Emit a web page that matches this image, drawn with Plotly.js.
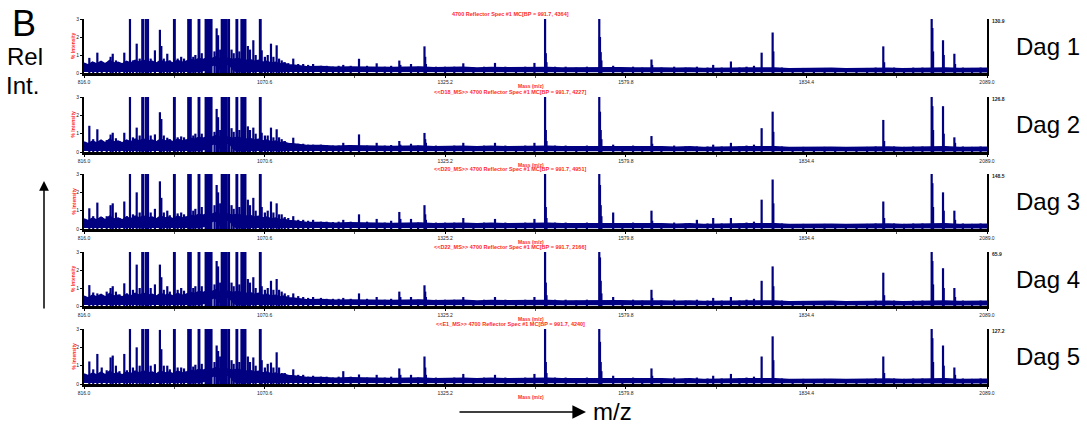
<!DOCTYPE html>
<html>
<head>
<meta charset="utf-8">
<script src="https://cdn.plot.ly/plotly-3.0.1.min.js"></script>
<style>html,body{margin:0;padding:0;background:#fff;}#chart{width:1087px;height:426px;}</style>
</head>
<body>
<div id="chart"></div>
<script>
// ---------------- DATA ----------------
const panelNames = ["Dag 1", "Dag 2", "Dag 3", "Dag 4", "Dag 5"];
const panelTitles = [
  "4700 Reflector Spec #1 MC[BP = 991.7, 4364]",
  "<<D18_MS>> 4700 Reflector Spec #1 MC[BP = 991.7, 4227]",
  "<<D20_MS>> 4700 Reflector Spec #1 MC[BP = 991.7, 4951]",
  "<<D22_MS>> 4700 Reflector Spec #1 MC[BP = 991.7, 2166]",
  "<<E1_MS>> 4700 Reflector Spec #1 MC[BP = 991.7, 4240]"
];
const rightMax = ["130.9", "126.8", "148.5", "65.9", "127.2"];
const xTickVals = [816.0, 1070.6, 1325.2, 1579.8, 1834.4, 2089.0];
const xTickText = ["816.0", "1070.6", "1325.2", "1579.8", "1834.4", "2089.0"];
const xMinorVals = [943.3, 1197.9, 1452.5, 1707.1, 1961.7];
const yTickVals = [0, 1, 2, 3];

// peak positions (m/z)
const peakMz = [
  823.5, 829, 834.8, 841, 848, 853.5, 856.5, 861, 866, 872.8,
  876.5, 880.8, 885, 890.3, 894.5, 898.2, 899.2, 903, 905.2, 906.2,
  910, 916, 923, 925, 928.5, 933.4, 937, 942.9, 943.9, 948,
  953, 957, 963, 965.4, 966.4, 970, 973, 977.6, 978.6, 982,
  987.5, 988.5, 989.7, 990.7, 991.7, 992.7, 993.7, 994.7, 995.7, 1000,
  1003, 1005, 1008, 1010.2, 1011.2, 1012.2, 1013.2, 1014.2, 1015.2, 1016.5,
  1019.4, 1020.4, 1024, 1027, 1031, 1032, 1035, 1038, 1039, 1040,
  1041, 1042.5, 1043.5, 1047, 1050, 1054.7, 1058, 1064, 1065, 1066.5,
  1071, 1075, 1079.6, 1083, 1087.6, 1091, 1094.7, 1099, 1104, 1111,
  1118, 1125, 1132, 1139, 1150, 1158, 1167, 1175, 1181.5, 1192,
  1203.7, 1215, 1228.6, 1240, 1249, 1260.5, 1262, 1277, 1287, 1296,
  1297, 1298, 1312, 1325, 1338, 1350.7, 1365, 1380, 1395.4, 1410,
  1425, 1438, 1451, 1466, 1467, 1468, 1480, 1495, 1510, 1525,
  1542.4, 1543.4, 1544.4, 1545.4, 1562, 1575, 1590, 1603, 1616, 1617,
  1630, 1648, 1664, 1680, 1695, 1703, 1715, 1728, 1740, 1750,
  1760.5, 1771.3, 1786.8, 1787.8, 1800, 1815, 1830, 1845, 1860, 1875,
  1890, 1905, 1920, 1932, 1942.8, 1944, 1958, 1972, 1985, 1998,
  2011, 2012, 2013, 2027, 2028, 2043, 2044, 2055, 2068, 2080
];

// % intensity of each peak, per spectrum (values above 3 are off-scale)
const int1 = [
  0.84, 0.6, 1.13, 0.55, 0.6, 0.9, 1.07, 0.7, 0.55, 1.13,
  0.6, 8, 0.7, 1.63, 0.8, 8, 5, 8, 8, 4,
  0.8, 1.26, 2.4, 1.5, 0.8, 1.07, 0.7, 8, 4, 0.8,
  0.9, 0.8, 8, 8, 4, 0.9, 1.0, 8, 4, 1.1,
  8, 8, 8, 8, 100, 60, 30, 10, 5, 1.2,
  2.48, 2.1, 1.3, 8, 8, 8, 8, 8, 8, 8,
  8, 4, 1.3, 1.1, 8, 4, 1.2, 8, 8, 8,
  8, 8, 5, 1.5, 1.3, 1.82, 1.0, 8, 4, 1.26,
  0.9, 1.0, 1.63, 0.9, 1.54, 0.8, 0.7, 0.6, 0.55, 0.8,
  0.5, 0.5, 0.45, 0.5, 0.4, 0.4, 0.35, 0.4, 0.45, 0.4,
  0.79, 0.4, 0.54, 0.35, 0.4, 0.69, 0.45, 0.5, 0.35, 1.48,
  0.9, 0.5, 0.35, 0.35, 0.35, 0.54, 0.3, 0.35, 0.56, 0.35,
  0.3, 0.35, 0.56, 60, 1.1, 0.6, 0.35, 0.35, 0.3, 0.35,
  50, 2.0, 1.16, 0.7, 0.4, 0.3, 0.35, 0.3, 0.75, 0.45,
  0.3, 0.35, 0.3, 0.35, 0.3, 0.45, 0.3, 0.64, 0.3, 0.35,
  0.4, 1.13, 2.25, 1.2, 0.3, 0.25, 0.28, 0.25, 0.28, 0.25,
  0.27, 0.25, 0.28, 0.3, 1.48, 0.6, 0.3, 0.28, 0.3, 0.3,
  50, 2.5, 1.2, 1.82, 1.0, 1.07, 0.5, 0.3, 0.28, 0.3
];
const int2 = [
  1.43, 0.7, 1.24, 0.6, 0.65, 0.95, 1.05, 0.75, 0.6, 1.05,
  0.65, 8, 0.8, 1.33, 0.9, 8, 5, 8, 8, 4,
  0.9, 0.96, 2.17, 1.8, 0.9, 0.78, 0.7, 8, 4, 0.8,
  0.85, 0.8, 8, 8, 4, 0.9, 1.0, 8, 4, 1.0,
  8, 8, 8, 8, 100, 60, 30, 10, 5, 1.1,
  2.35, 1.9, 1.2, 8, 8, 8, 8, 8, 8, 8,
  8, 4, 1.3, 1.1, 8, 4, 1.2, 8, 8, 8,
  8, 8, 5, 1.4, 1.2, 1.33, 1.0, 8, 4, 1.05,
  0.9, 0.9, 1.33, 0.8, 1.24, 0.8, 0.7, 0.6, 0.5, 0.78,
  0.45, 0.45, 0.4, 0.4, 0.4, 0.38, 0.35, 0.35, 0.5, 0.38,
  0.96, 0.35, 0.5, 0.35, 0.38, 0.6, 0.4, 0.45, 0.35, 1.04,
  0.7, 0.5, 0.35, 0.3, 0.35, 0.5, 0.3, 0.35, 0.5, 0.35,
  0.3, 0.35, 0.5, 60, 1.2, 0.6, 0.35, 0.35, 0.3, 0.35,
  50, 2.2, 1.2, 0.7, 0.4, 0.3, 0.35, 0.3, 0.87, 0.45,
  0.3, 0.35, 0.3, 0.3, 0.3, 0.4, 0.3, 0.5, 0.3, 0.35,
  0.4, 1.3, 2.2, 1.1, 0.3, 0.25, 0.28, 0.25, 0.28, 0.25,
  0.27, 0.25, 0.28, 0.3, 1.75, 0.6, 0.3, 0.28, 0.3, 0.3,
  50, 2.5, 1.2, 2.5, 1.0, 0.8, 0.5, 0.3, 0.28, 0.3
];
const int3 = [
  1.13, 0.7, 1.44, 0.65, 0.7, 1.3, 1.4, 0.9, 0.6, 1.5,
  0.7, 8, 0.8, 2.0, 0.9, 8, 5, 8, 8, 4,
  0.9, 1.1, 2.6, 1.7, 0.9, 1.0, 0.75, 8, 4, 0.85,
  0.9, 0.8, 8, 8, 4, 1.0, 1.1, 8, 4, 1.2,
  8, 8, 8, 8, 100, 60, 30, 10, 5, 1.3,
  2.4, 2.0, 1.4, 8, 8, 8, 8, 8, 8, 8,
  8, 4, 1.3, 1.1, 8, 4, 1.2, 8, 8, 8,
  8, 8, 5, 1.6, 1.3, 1.7, 1.0, 8, 4, 1.2,
  0.9, 1.0, 1.5, 0.9, 1.4, 0.8, 0.8, 0.65, 0.6, 0.7,
  0.5, 0.5, 0.45, 0.5, 0.4, 0.4, 0.38, 0.4, 0.5, 0.4,
  0.8, 0.4, 0.55, 0.35, 0.45, 0.93, 0.55, 0.55, 0.35, 1.3,
  0.8, 0.5, 0.35, 0.35, 0.35, 0.6, 0.3, 0.35, 0.55, 0.35,
  0.3, 0.35, 0.55, 60, 1.2, 0.6, 0.35, 0.35, 0.3, 0.35,
  50, 2.4, 1.3, 0.7, 0.9, 0.3, 0.35, 0.3, 1.0, 0.45,
  0.3, 0.35, 0.3, 0.5, 0.3, 0.6, 0.3, 0.6, 0.3, 0.35,
  0.4, 1.6, 2.7, 1.4, 0.3, 0.25, 0.28, 0.25, 0.28, 0.25,
  0.27, 0.25, 0.28, 0.3, 1.5, 0.6, 0.3, 0.28, 0.3, 0.3,
  50, 2.5, 1.2, 2.0, 1.0, 1.0, 0.5, 0.3, 0.28, 0.3
];
const int4 = [
  1.16, 0.75, 0.7, 0.6, 0.8, 1.0, 1.1, 0.8, 0.65, 1.26,
  0.7, 8, 0.9, 2.3, 1.0, 8, 5, 8, 8, 4,
  1.0, 1.2, 2.3, 1.6, 0.9, 1.1, 0.8, 8, 4, 0.9,
  1.0, 0.85, 8, 8, 4, 1.0, 1.1, 8, 4, 1.1,
  8, 8, 8, 8, 100, 60, 30, 10, 5, 1.2,
  2.5, 2.2, 1.3, 8, 8, 8, 8, 8, 8, 8,
  8, 4, 1.3, 1.1, 8, 4, 1.2, 8, 8, 8,
  8, 8, 5, 1.5, 1.3, 1.6, 1.0, 8, 4, 1.1,
  0.9, 1.0, 1.4, 0.9, 1.5, 0.9, 0.8, 0.7, 0.6, 0.7,
  0.55, 0.5, 0.45, 0.5, 0.45, 0.4, 0.4, 0.4, 0.45, 0.4,
  0.7, 0.4, 0.5, 0.35, 0.4, 0.8, 0.5, 0.5, 0.35, 1.15,
  0.8, 0.5, 0.35, 0.35, 0.35, 0.5, 0.3, 0.35, 0.5, 0.35,
  0.3, 0.35, 0.5, 60, 1.3, 0.6, 0.35, 0.35, 0.3, 0.35,
  50, 2.7, 1.4, 0.7, 0.5, 0.3, 0.35, 0.3, 0.9, 0.45,
  0.3, 0.35, 0.3, 0.35, 0.3, 0.45, 0.3, 0.5, 0.3, 0.35,
  0.4, 1.4, 2.2, 1.1, 0.3, 0.25, 0.28, 0.25, 0.28, 0.25,
  0.27, 0.25, 0.28, 0.3, 1.85, 0.6, 0.3, 0.28, 0.3, 0.3,
  50, 2.5, 1.2, 2.1, 1.0, 1.0, 0.5, 0.3, 0.28, 0.3
];
const int5 = [
  1.23, 0.8, 1.64, 0.9, 0.75, 1.45, 1.55, 1.0, 0.7, 1.64,
  0.75, 8, 0.9, 2.0, 1.0, 8, 5, 8, 8, 4,
  1.0, 1.08, 2.95, 1.9, 1.0, 1.0, 0.8, 8, 4, 0.9,
  0.9, 0.85, 8, 8, 4, 0.95, 1.05, 8, 4, 1.1,
  8, 8, 8, 8, 100, 60, 30, 10, 5, 1.2,
  2.1, 1.8, 1.5, 8, 8, 8, 8, 8, 8, 8,
  8, 4, 1.3, 1.1, 8, 4, 1.2, 8, 8, 8,
  8, 8, 5, 1.5, 1.2, 1.45, 1.0, 8, 4, 1.3,
  0.9, 1.1, 1.17, 0.9, 1.73, 0.9, 0.6, 0.6, 0.5, 0.8,
  0.5, 0.5, 0.4, 0.45, 0.4, 0.4, 0.35, 0.4, 0.7, 0.4,
  0.52, 0.35, 0.5, 0.35, 0.4, 0.85, 0.5, 0.5, 0.35, 1.5,
  0.9, 0.5, 0.35, 0.3, 0.35, 0.55, 0.3, 0.35, 0.5, 0.35,
  0.3, 0.35, 0.55, 60, 1.2, 0.6, 0.35, 0.35, 0.3, 0.35,
  50, 2.3, 1.2, 0.7, 0.45, 0.3, 0.35, 0.3, 0.85, 0.45,
  0.3, 0.35, 0.3, 0.35, 0.3, 0.45, 0.3, 0.55, 0.3, 0.35,
  0.4, 1.5, 2.6, 1.3, 0.3, 0.25, 0.28, 0.25, 0.28, 0.25,
  0.27, 0.25, 0.28, 0.3, 1.5, 0.6, 0.3, 0.28, 0.3, 0.3,
  50, 2.5, 1.2, 2.1, 1.0, 0.9, 0.5, 0.3, 0.28, 0.3
];
const intensities = [int1, int2, int3, int4, int5];

// noise band: upper edge of the baseline
const baseMz = [
  816, 822, 828, 834, 840, 846, 852, 858, 864, 870,
  876, 882, 888, 894, 900, 906, 912, 918, 924, 930,
  936, 942, 948, 954, 960, 966, 972, 978, 984, 990,
  996, 1002, 1008, 1014, 1020, 1026, 1032, 1038, 1044, 1050,
  1056, 1062, 1068, 1074, 1080, 1086, 1092, 1098, 1104, 1110,
  1130, 1150, 1170, 1190, 1210, 1230, 1250, 1270, 1290, 1310,
  1330, 1350, 1370, 1390, 1410, 1430, 1450, 1470, 1490, 1510,
  1530, 1550, 1570, 1590, 1610, 1630, 1650, 1670, 1690, 1710,
  1730, 1750, 1770, 1790, 1810, 1830, 1850, 1870, 1890, 1910,
  1930, 1950, 1970, 1990, 2010, 2030, 2050, 2070, 2089
];
const baseHi = [
  0.55, 0.45, 0.6, 0.5, 0.65, 0.5, 0.7, 0.55, 0.6, 0.5,
  0.65, 0.55, 0.7, 0.6, 0.7, 0.6, 0.65, 0.55, 0.7, 0.6,
  0.65, 0.55, 0.7, 0.6, 0.65, 0.75, 0.7, 0.8, 0.75, 0.85,
  0.8, 0.9, 0.8, 0.85, 0.8, 0.75, 0.8, 0.75, 0.7, 0.75,
  0.65, 0.7, 0.6, 0.65, 0.55, 0.6, 0.5, 0.55, 0.45, 0.45,
  0.35, 0.36, 0.32, 0.34, 0.32, 0.34, 0.3, 0.32, 0.33, 0.29,
  0.31, 0.32, 0.28, 0.31, 0.29, 0.31, 0.32, 0.31, 0.28, 0.29,
  0.31, 0.32, 0.29, 0.28, 0.3, 0.28, 0.26, 0.28, 0.25, 0.28,
  0.27, 0.28, 0.3, 0.28, 0.24, 0.26, 0.24, 0.26, 0.24, 0.26,
  0.25, 0.27, 0.24, 0.26, 0.3, 0.28, 0.25, 0.24, 0.26
];
// lower edge of the baseline noise (white gap beneath it)
const lowMz  = [816, 980, 988, 994, 998, 1002, 1006, 1010, 1014, 1018, 1022, 1026, 1030, 2089];
const lowVal = [0.05, 0.05, 0.12, 0.3, 0.4, 0.38, 0.2, 0.1, 0.3, 0.45, 0.35, 0.12, 0.05, 0.03];

// ---------------- LAYOUT CONSTANTS ----------------
const W = 1087, H = 426;
const plotLeft = 84, plotRight = 987;
const panelTop = [19, 97, 174, 252, 329];
const panelBottom = [73, 152, 229, 306, 384];
const NAVY = "#000080";
const RED = "#ff2a2a";
const FONT = "Liberation Sans, Arial, sans-serif";

const traces = [];
const layout = {
  width: W, height: H,
  margin: {l: 0, r: 0, t: 0, b: 0},
  paper_bgcolor: "#ffffff", plot_bgcolor: "#ffffff",
  showlegend: false,
  font: {family: FONT, color: "#000"},
  annotations: [],
  shapes: []
};

function px(x) { return x / W; }
function py(y) { return 1 - y / H; }

for (let k = 0; k < 5; k++) {
  const sfx = k === 0 ? "" : String(k + 1);
  const xa = "x" + sfx, ya = "y" + sfx;
  // noise band
  traces.push({type: "scatter", mode: "lines", x: baseMz, y: baseHi, xaxis: xa, yaxis: ya,
    line: {color: NAVY, width: 1.5}, fill: "tozeroy", fillcolor: NAVY, hoverinfo: "skip"});
  traces.push({type: "scatter", mode: "lines", x: lowMz, y: lowVal, xaxis: xa, yaxis: ya,
    line: {color: "#ffffff", width: 0}, fill: "tozeroy", fillcolor: "#ffffff", hoverinfo: "skip"});
  // peaks as sticks
  const sx = [], sy = [];
  const h = intensities[k];
  for (let i = 0; i < peakMz.length; i++) {
    sx.push(peakMz[i], peakMz[i], null);
    sy.push(0, h[i], null);
  }
  traces.push({type: "scatter", mode: "lines", x: sx, y: sy, xaxis: xa, yaxis: ya,
    line: {color: NAVY, width: 2.2}, connectgaps: false, hoverinfo: "skip"});

  layout["xaxis" + sfx] = {
    domain: [px(plotLeft), px(plotRight)], anchor: ya,
    range: [816, 2089], tickmode: "array", tickvals: xTickVals, ticktext: xTickText,
    tickfont: {size: 5, color: "#222", family: FONT},
    ticks: "outside", ticklen: 2, tickwidth: 1, tickcolor: "#000",
    minor: {tickmode: "array", tickvals: xMinorVals, ticks: "outside", ticklen: 2, tickwidth: 1, tickcolor: "#555"},
    showline: true, linecolor: "#000", linewidth: 2.5,
    showgrid: false, zeroline: false, fixedrange: true
  };
  layout["yaxis" + sfx] = {
    domain: [py(panelBottom[k]), py(panelTop[k])], anchor: xa,
    range: [0, 3], tickmode: "array", tickvals: yTickVals,
    tickfont: {size: 5, color: "#222", family: FONT},
    ticks: "outside", ticklen: 2, tickwidth: 1, tickcolor: "#000",
    showline: true, linecolor: "#000", linewidth: 2, mirror: true,
    showgrid: false, zeroline: false, fixedrange: true
  };

  const mid = (panelTop[k] + panelBottom[k]) / 2;
  layout.annotations.push(
    {xref: "paper", yref: "paper", x: px(510), y: py(panelTop[k] - 5), text: "<b>" + panelTitles[k].replace(/</g, "&lt;").replace(/>/g, "&gt;") + "</b>",
     showarrow: false, xanchor: "center", yanchor: "middle", font: {size: 5.5, color: RED, family: FONT}},
    {xref: "paper", yref: "paper", x: px(531), y: py(panelBottom[k] + 13), text: "<b>Mass (m/z)</b>",
     showarrow: false, xanchor: "center", yanchor: "middle", font: {size: 5, color: RED, family: FONT}},
    {xref: "paper", yref: "paper", x: px(73), y: py(mid), text: "<b>% Intensity</b>", textangle: -90,
     showarrow: false, xanchor: "center", yanchor: "middle", font: {size: 5, color: RED, family: FONT}},
    {xref: "paper", yref: "paper", x: px(990), y: py(panelTop[k] + 2), text: "<b>" + rightMax[k] + "</b>",
     showarrow: false, xanchor: "left", yanchor: "middle", font: {size: 5, color: "#222", family: FONT}},
    {xref: "paper", yref: "paper", x: px(1014), y: py(mid), text: panelNames[k],
     showarrow: false, xanchor: "left", yanchor: "middle", font: {size: 24, color: "#000", family: FONT}}
  );
}

layout.annotations.push(
  {xref: "paper", yref: "paper", x: px(10), y: py(23), text: "B", showarrow: false,
   xanchor: "left", yanchor: "middle", font: {size: 36, color: "#000", family: FONT}},
  {xref: "paper", yref: "paper", x: px(5), y: py(56), text: "Rel", showarrow: false,
   xanchor: "left", yanchor: "middle", font: {size: 24, color: "#000", family: FONT}},
  {xref: "paper", yref: "paper", x: px(4), y: py(85), text: "Int.", showarrow: false,
   xanchor: "left", yanchor: "middle", font: {size: 24, color: "#000", family: FONT}},
  {xref: "paper", yref: "paper", x: px(591), y: py(411), text: "m/z", showarrow: false,
   xanchor: "left", yanchor: "middle", font: {size: 24, color: "#000", family: FONT}},
  // horizontal arrow
  {xref: "paper", yref: "paper", x: px(586), y: py(412), text: "", showarrow: true,
   ax: -128, ay: 0, arrowhead: 2, arrowsize: 1.7, arrowwidth: 1.6, arrowcolor: "#000", standoff: 0},
  // vertical arrow
  {xref: "paper", yref: "paper", x: px(44), y: py(181), text: "", showarrow: true,
   ax: 0, ay: 129, arrowhead: 2, arrowsize: 1.3, arrowwidth: 1.5, arrowcolor: "#000", standoff: 0}
);

Plotly.newPlot("chart", traces, layout, {displayModeBar: false, staticPlot: true});
</script>
</body>
</html>
